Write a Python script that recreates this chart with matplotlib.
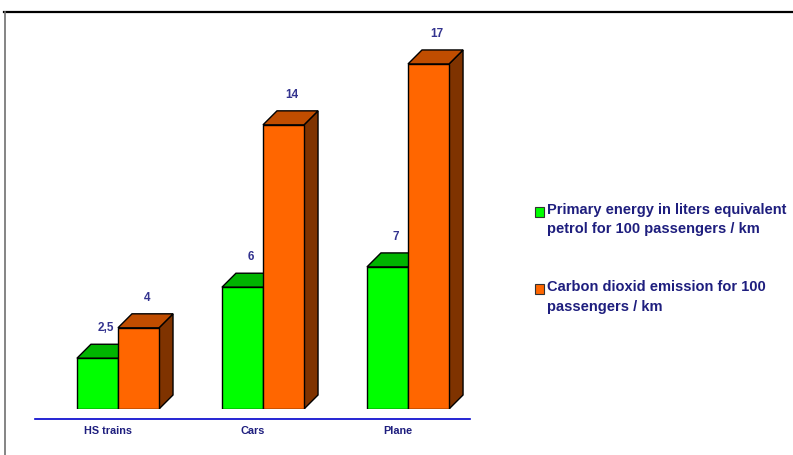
import matplotlib.pyplot as plt
from matplotlib.patches import Polygon, Rectangle
from matplotlib.lines import Line2D

plt.rcParams['font.family'] = ['Liberation Sans', 'DejaVu Sans']

# data
categories = ['HS trains', 'Cars', 'Plane']
energy = [2.5, 6, 7]
co2 = [4, 14, 17]
series_names = ['Primary energy in liters equivalent\npetrol for 100 passengers / km',
                'Carbon dioxid emission for 100\npassengers / km']

# colours: front, top, side
green = ('#00FF00', '#00B400', '#007A00')
orange = ('#FF6600', '#C04D00', '#7F3300')
navy = '#1E1E7E'
label_blue = '#33338F'

W, H = 793, 455
fig = plt.figure(figsize=(W / 100, H / 100), dpi=100)
ax = fig.add_axes([5 / W, 46 / H, 788 / W, 397 / H])
ax.set_xlim(-0.779, 4.655)
ax.set_ylim(0, 19.56)
ax.axis('off')

bar_w = 0.283
dx = 0.0966
dy = 0.69
z = [1]


def fmt(v):
    return ('%g' % v).replace('.', ',')


def bar3d(x0, h, cols):
    front, top, side = cols
    kw = dict(edgecolor='black', linewidth=1, joinstyle='miter')
    ax.add_patch(Polygon([(x0 + bar_w, 0), (x0 + bar_w + dx, dy),
                          (x0 + bar_w + dx, h + dy), (x0 + bar_w, h)],
                         facecolor=side, zorder=z[0], **kw))
    ax.add_patch(Polygon([(x0, h), (x0 + bar_w, h),
                          (x0 + bar_w + dx, h + dy), (x0 + dx, h + dy)],
                         facecolor=top, zorder=z[0] + 1, **kw))
    ax.add_patch(Polygon([(x0, 0), (x0 + bar_w, 0), (x0 + bar_w, h), (x0, h)],
                         facecolor=front, zorder=z[0] + 2, **kw))
    ax.text(x0 + bar_w / 2 + dx * 0.6, h + dy + 0.8, fmt(h), ha='center',
            va='center', fontsize=8.5, fontweight='bold', color=label_blue,
            zorder=20)
    z[0] += 3


for i, cat in enumerate(categories):
    bar3d(i - bar_w, energy[i], green)
    bar3d(i, co2[i], orange)
    ax.text(i - 0.069, -1.08, cat, ha='center', va='center', fontsize=7.8,
            fontweight='bold', color=navy, clip_on=False)

# category axis
ax.plot([-0.572, len(categories) - 1 + 0.428], [-0.49, -0.49],
        color='#0000CC', linewidth=1.2, clip_on=False)

# frame
fig.add_artist(Line2D([4 / W, 1], [1 - 12 / H, 1 - 12 / H], color='black',
                      linewidth=1.6))
fig.add_artist(Line2D([4.5 / W, 4.5 / W], [0, 1 - 12 / H], color='#707070',
                      linewidth=1.2))

# legend
for name, cols, ytop in zip(series_names, (green, orange), (207, 284)):
    fig.add_artist(Rectangle((535 / W, 1 - (ytop + 10) / H), 9 / W, 10 / H,
                             facecolor=cols[0], edgecolor='#333333',
                             linewidth=0.8))
    fig.text(547 / W, 1 - (ytop - 4) / H, name, ha='left', va='top',
             fontsize=10.5, fontweight='bold', color=navy, linespacing=1.5)

fig.savefig('out.png', dpi=100)
